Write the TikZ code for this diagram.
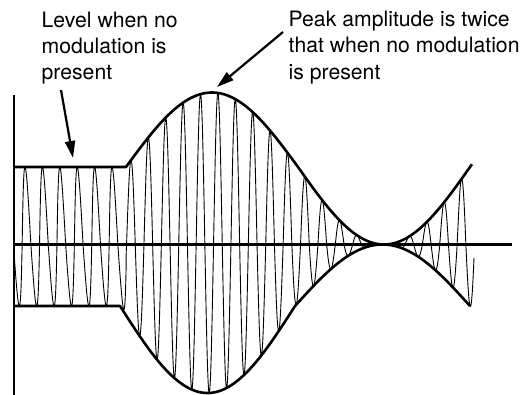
\documentclass[tikz,border=0pt]{standalone}
\usepackage{fontspec}
\setmainfont{TeX Gyre Heros}
\usetikzlibrary{arrows.meta}
\begin{document}
\begin{tikzpicture}[x=1pt,y=-1pt,
  declare function={
    mU(\t)=(\t>126)*sin((\t-126)/344*360);
    AU(\t)=77.5+77.5*mU(\t)-3*max(mU(\t),0);
    mL(\t)=(\t>120)*sin((\t-120)/350*360);
    AL(\t)=61.5+61.5*mL(\t)+25.5*max(mL(\t),0);
    cs(\t)=cos((\t-26.5)/17.4*360);
    dl(\t)=1.5*(\t<126);
  },
  env/.style={line width=2.6pt, line join=round},
  axisline/.style={line width=2.6pt},
  carrier/.style={line width=0.9pt, line join=round},
  callout/.style={line width=2.2pt, -{Triangle[length=17pt,width=10pt]}},
  lbl/.style={font=\fontsize{21.2}{26.4}\selectfont, align=left, inner sep=0pt, anchor=north west}
]
\useasboundingbox (0,0) rectangle (522,395);
% carrier
\draw[carrier] plot[domain=13.5:474, samples=1400, variable=\t]
  ({\t - dl(\t)*cs(\t)}, {244.5 - max(cs(\t),0)*AU(\t) + max(-cs(\t),0)*AL(\t)});
% axes
\coordinate (vtop) at (14,95);
\coordinate (vbot) at (14,395);
\coordinate (hl) at (14,244.5);
\coordinate (hr) at (512,244.5);
\draw[axisline] (vtop) -- (vbot);
\draw[axisline] (hl) -- (hr);
% envelopes
\draw[env] (14,167) -- (126,167) -- plot[domain=126:472, samples=220, variable=\t] (\t, {244.5-AU(\t)});
\draw[env] (14,306) -- (120,306) -- plot[domain=120:470, samples=220, variable=\t] (\t, {244.5+AL(\t)});
% labels
\node[lbl] (lvl) at (41.5,11.5) {Level when no\\modulation is\\present};
\node[lbl] (pk) at (288.5,10.8) {Peak amplitude is twice\\that when no modulation\\is present};
\coordinate (a1s) at (61,90);
\coordinate (a1e) at (73,158);
\coordinate (a2s) at (283,32);
\coordinate (a2e) at (217,87);
\draw[callout] (a1s) -- (a1e);
\draw[callout] (a2s) -- (a2e);
\end{tikzpicture}
\end{document}
